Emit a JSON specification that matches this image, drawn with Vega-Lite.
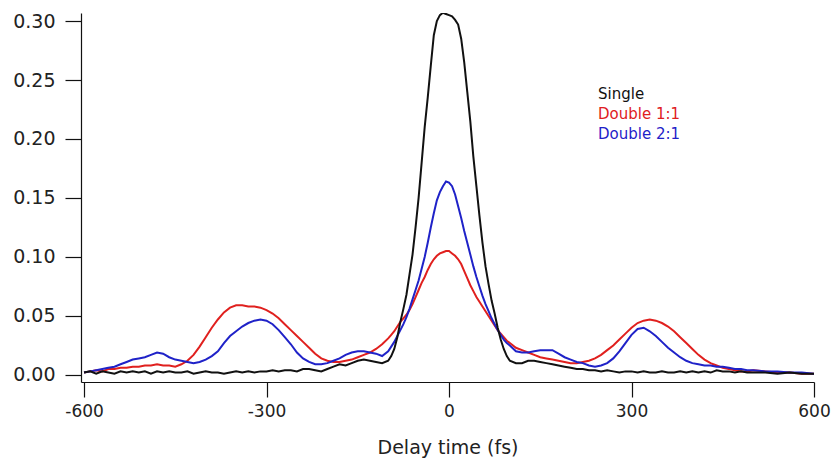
{
  "$schema": "https://vega.github.io/schema/vega-lite/v6.json",
  "autosize": {"type": "none"},
  "padding": {"left": 81, "top": 13, "right": 22, "bottom": 86},
  "width": 733,
  "height": 369,
  "background": "white",
  "config": {
    "view": {"stroke": null},
    "font": "DejaVu Sans",
    "axis": {
      "grid": false,
      "domainColor": "#111111",
      "domainWidth": 1.2,
      "tickColor": "#111111",
      "tickWidth": 1.2,
      "labelFont": "DejaVu Sans",
      "labelColor": "#222222",
      "titleFont": "DejaVu Sans",
      "titleColor": "#222222",
      "titleFontWeight": "normal"
    }
  },
  "datasets": {
    "curves": [
      {"t": -600, "Single": 0.002, "Double 1:1": 0.002, "Double 2:1": 0.002},
      {"t": -590, "Single": 0.003, "Double 1:1": 0.003, "Double 2:1": 0.003},
      {"t": -580, "Single": 0.001, "Double 1:1": 0.004, "Double 2:1": 0.004},
      {"t": -570, "Single": 0.003, "Double 1:1": 0.003, "Double 2:1": 0.005},
      {"t": -560, "Single": 0.002, "Double 1:1": 0.005, "Double 2:1": 0.006},
      {"t": -550, "Single": 0.001, "Double 1:1": 0.005, "Double 2:1": 0.007},
      {"t": -540, "Single": 0.003, "Double 1:1": 0.006, "Double 2:1": 0.009},
      {"t": -530, "Single": 0.002, "Double 1:1": 0.006, "Double 2:1": 0.011},
      {"t": -520, "Single": 0.003, "Double 1:1": 0.007, "Double 2:1": 0.013},
      {"t": -510, "Single": 0.002, "Double 1:1": 0.007, "Double 2:1": 0.014},
      {"t": -500, "Single": 0.003, "Double 1:1": 0.008, "Double 2:1": 0.015},
      {"t": -490, "Single": 0.001, "Double 1:1": 0.008, "Double 2:1": 0.017},
      {"t": -480, "Single": 0.003, "Double 1:1": 0.009, "Double 2:1": 0.019},
      {"t": -470, "Single": 0.002, "Double 1:1": 0.008, "Double 2:1": 0.018},
      {"t": -460, "Single": 0.003, "Double 1:1": 0.008, "Double 2:1": 0.015},
      {"t": -450, "Single": 0.002, "Double 1:1": 0.007, "Double 2:1": 0.013},
      {"t": -440, "Single": 0.002, "Double 1:1": 0.009, "Double 2:1": 0.012},
      {"t": -430, "Single": 0.003, "Double 1:1": 0.012, "Double 2:1": 0.011},
      {"t": -420, "Single": 0.001, "Double 1:1": 0.017, "Double 2:1": 0.010},
      {"t": -410, "Single": 0.002, "Double 1:1": 0.024, "Double 2:1": 0.011},
      {"t": -400, "Single": 0.003, "Double 1:1": 0.032, "Double 2:1": 0.013},
      {"t": -390, "Single": 0.002, "Double 1:1": 0.040, "Double 2:1": 0.016},
      {"t": -380, "Single": 0.002, "Double 1:1": 0.047, "Double 2:1": 0.020},
      {"t": -370, "Single": 0.001, "Double 1:1": 0.053, "Double 2:1": 0.027},
      {"t": -360, "Single": 0.002, "Double 1:1": 0.057, "Double 2:1": 0.033},
      {"t": -350, "Single": 0.003, "Double 1:1": 0.059, "Double 2:1": 0.037},
      {"t": -340, "Single": 0.002, "Double 1:1": 0.059, "Double 2:1": 0.041},
      {"t": -330, "Single": 0.003, "Double 1:1": 0.058, "Double 2:1": 0.044},
      {"t": -320, "Single": 0.002, "Double 1:1": 0.058, "Double 2:1": 0.046},
      {"t": -310, "Single": 0.003, "Double 1:1": 0.057, "Double 2:1": 0.047},
      {"t": -300, "Single": 0.003, "Double 1:1": 0.055, "Double 2:1": 0.046},
      {"t": -290, "Single": 0.004, "Double 1:1": 0.052, "Double 2:1": 0.043},
      {"t": -280, "Single": 0.003, "Double 1:1": 0.048, "Double 2:1": 0.038},
      {"t": -270, "Single": 0.004, "Double 1:1": 0.043, "Double 2:1": 0.032},
      {"t": -260, "Single": 0.004, "Double 1:1": 0.038, "Double 2:1": 0.026},
      {"t": -250, "Single": 0.003, "Double 1:1": 0.033, "Double 2:1": 0.019},
      {"t": -240, "Single": 0.005, "Double 1:1": 0.028, "Double 2:1": 0.014},
      {"t": -230, "Single": 0.005, "Double 1:1": 0.023, "Double 2:1": 0.011},
      {"t": -220, "Single": 0.004, "Double 1:1": 0.018, "Double 2:1": 0.009},
      {"t": -210, "Single": 0.003, "Double 1:1": 0.014, "Double 2:1": 0.009},
      {"t": -200, "Single": 0.005, "Double 1:1": 0.012, "Double 2:1": 0.010},
      {"t": -190, "Single": 0.007, "Double 1:1": 0.011, "Double 2:1": 0.012},
      {"t": -180, "Single": 0.009, "Double 1:1": 0.011, "Double 2:1": 0.014},
      {"t": -170, "Single": 0.008, "Double 1:1": 0.012, "Double 2:1": 0.017},
      {"t": -160, "Single": 0.010, "Double 1:1": 0.013, "Double 2:1": 0.019},
      {"t": -150, "Single": 0.012, "Double 1:1": 0.015, "Double 2:1": 0.020},
      {"t": -140, "Single": 0.013, "Double 1:1": 0.017, "Double 2:1": 0.020},
      {"t": -130, "Single": 0.012, "Double 1:1": 0.019, "Double 2:1": 0.019},
      {"t": -120, "Single": 0.011, "Double 1:1": 0.022, "Double 2:1": 0.018},
      {"t": -110, "Single": 0.010, "Double 1:1": 0.026, "Double 2:1": 0.016},
      {"t": -100, "Single": 0.012, "Double 1:1": 0.031, "Double 2:1": 0.020},
      {"t": -95, "Single": 0.016, "Double 1:1": 0.034, "Double 2:1": 0.024},
      {"t": -90, "Single": 0.022, "Double 1:1": 0.037, "Double 2:1": 0.028},
      {"t": -85, "Single": 0.032, "Double 1:1": 0.041, "Double 2:1": 0.033},
      {"t": -80, "Single": 0.045, "Double 1:1": 0.045, "Double 2:1": 0.038},
      {"t": -75, "Single": 0.056, "Double 1:1": 0.048, "Double 2:1": 0.043},
      {"t": -70, "Single": 0.068, "Double 1:1": 0.051, "Double 2:1": 0.049},
      {"t": -65, "Single": 0.085, "Double 1:1": 0.055, "Double 2:1": 0.056},
      {"t": -60, "Single": 0.102, "Double 1:1": 0.060, "Double 2:1": 0.064},
      {"t": -55, "Single": 0.125, "Double 1:1": 0.066, "Double 2:1": 0.072},
      {"t": -50, "Single": 0.150, "Double 1:1": 0.072, "Double 2:1": 0.080},
      {"t": -45, "Single": 0.180, "Double 1:1": 0.078, "Double 2:1": 0.090},
      {"t": -40, "Single": 0.210, "Double 1:1": 0.083, "Double 2:1": 0.100},
      {"t": -35, "Single": 0.235, "Double 1:1": 0.089, "Double 2:1": 0.112},
      {"t": -30, "Single": 0.262, "Double 1:1": 0.094, "Double 2:1": 0.125},
      {"t": -25, "Single": 0.288, "Double 1:1": 0.098, "Double 2:1": 0.137},
      {"t": -20, "Single": 0.300, "Double 1:1": 0.101, "Double 2:1": 0.148},
      {"t": -15, "Single": 0.305, "Double 1:1": 0.103, "Double 2:1": 0.155},
      {"t": -10, "Single": 0.307, "Double 1:1": 0.104, "Double 2:1": 0.160},
      {"t": -5, "Single": 0.306, "Double 1:1": 0.105, "Double 2:1": 0.164},
      {"t": 0, "Single": 0.305, "Double 1:1": 0.105, "Double 2:1": 0.163},
      {"t": 5, "Single": 0.304, "Double 1:1": 0.103, "Double 2:1": 0.160},
      {"t": 10, "Single": 0.301, "Double 1:1": 0.101, "Double 2:1": 0.153},
      {"t": 15, "Single": 0.297, "Double 1:1": 0.098, "Double 2:1": 0.143},
      {"t": 20, "Single": 0.285, "Double 1:1": 0.094, "Double 2:1": 0.133},
      {"t": 25, "Single": 0.265, "Double 1:1": 0.088, "Double 2:1": 0.122},
      {"t": 30, "Single": 0.240, "Double 1:1": 0.082, "Double 2:1": 0.112},
      {"t": 35, "Single": 0.215, "Double 1:1": 0.076, "Double 2:1": 0.102},
      {"t": 40, "Single": 0.185, "Double 1:1": 0.071, "Double 2:1": 0.092},
      {"t": 45, "Single": 0.160, "Double 1:1": 0.066, "Double 2:1": 0.083},
      {"t": 50, "Single": 0.135, "Double 1:1": 0.062, "Double 2:1": 0.075},
      {"t": 55, "Single": 0.112, "Double 1:1": 0.058, "Double 2:1": 0.067},
      {"t": 60, "Single": 0.092, "Double 1:1": 0.054, "Double 2:1": 0.060},
      {"t": 65, "Single": 0.077, "Double 1:1": 0.050, "Double 2:1": 0.054},
      {"t": 70, "Single": 0.063, "Double 1:1": 0.046, "Double 2:1": 0.048},
      {"t": 75, "Single": 0.052, "Double 1:1": 0.042, "Double 2:1": 0.043},
      {"t": 80, "Single": 0.040, "Double 1:1": 0.038, "Double 2:1": 0.038},
      {"t": 85, "Single": 0.030, "Double 1:1": 0.035, "Double 2:1": 0.034},
      {"t": 90, "Single": 0.022, "Double 1:1": 0.032, "Double 2:1": 0.030},
      {"t": 95, "Single": 0.016, "Double 1:1": 0.029, "Double 2:1": 0.027},
      {"t": 100, "Single": 0.012, "Double 1:1": 0.027, "Double 2:1": 0.025},
      {"t": 110, "Single": 0.010, "Double 1:1": 0.023, "Double 2:1": 0.020},
      {"t": 120, "Single": 0.010, "Double 1:1": 0.021, "Double 2:1": 0.019},
      {"t": 130, "Single": 0.012, "Double 1:1": 0.019, "Double 2:1": 0.019},
      {"t": 140, "Single": 0.012, "Double 1:1": 0.017, "Double 2:1": 0.020},
      {"t": 150, "Single": 0.011, "Double 1:1": 0.015, "Double 2:1": 0.021},
      {"t": 160, "Single": 0.010, "Double 1:1": 0.014, "Double 2:1": 0.021},
      {"t": 170, "Single": 0.009, "Double 1:1": 0.013, "Double 2:1": 0.021},
      {"t": 180, "Single": 0.008, "Double 1:1": 0.012, "Double 2:1": 0.018},
      {"t": 190, "Single": 0.007, "Double 1:1": 0.011, "Double 2:1": 0.015},
      {"t": 200, "Single": 0.006, "Double 1:1": 0.010, "Double 2:1": 0.013},
      {"t": 210, "Single": 0.005, "Double 1:1": 0.010, "Double 2:1": 0.011},
      {"t": 220, "Single": 0.005, "Double 1:1": 0.011, "Double 2:1": 0.010},
      {"t": 230, "Single": 0.004, "Double 1:1": 0.012, "Double 2:1": 0.008},
      {"t": 240, "Single": 0.004, "Double 1:1": 0.014, "Double 2:1": 0.007},
      {"t": 250, "Single": 0.003, "Double 1:1": 0.017, "Double 2:1": 0.008},
      {"t": 260, "Single": 0.004, "Double 1:1": 0.021, "Double 2:1": 0.010},
      {"t": 270, "Single": 0.003, "Double 1:1": 0.025, "Double 2:1": 0.014},
      {"t": 280, "Single": 0.002, "Double 1:1": 0.030, "Double 2:1": 0.020},
      {"t": 290, "Single": 0.003, "Double 1:1": 0.035, "Double 2:1": 0.027},
      {"t": 300, "Single": 0.003, "Double 1:1": 0.040, "Double 2:1": 0.034},
      {"t": 310, "Single": 0.002, "Double 1:1": 0.044, "Double 2:1": 0.039},
      {"t": 320, "Single": 0.003, "Double 1:1": 0.046, "Double 2:1": 0.040},
      {"t": 330, "Single": 0.002, "Double 1:1": 0.047, "Double 2:1": 0.037},
      {"t": 340, "Single": 0.002, "Double 1:1": 0.046, "Double 2:1": 0.033},
      {"t": 350, "Single": 0.003, "Double 1:1": 0.044, "Double 2:1": 0.028},
      {"t": 360, "Single": 0.002, "Double 1:1": 0.041, "Double 2:1": 0.023},
      {"t": 370, "Single": 0.002, "Double 1:1": 0.037, "Double 2:1": 0.019},
      {"t": 380, "Single": 0.003, "Double 1:1": 0.032, "Double 2:1": 0.015},
      {"t": 390, "Single": 0.002, "Double 1:1": 0.027, "Double 2:1": 0.012},
      {"t": 400, "Single": 0.003, "Double 1:1": 0.022, "Double 2:1": 0.010},
      {"t": 410, "Single": 0.002, "Double 1:1": 0.017, "Double 2:1": 0.009},
      {"t": 420, "Single": 0.003, "Double 1:1": 0.013, "Double 2:1": 0.008},
      {"t": 430, "Single": 0.002, "Double 1:1": 0.010, "Double 2:1": 0.008},
      {"t": 440, "Single": 0.004, "Double 1:1": 0.008, "Double 2:1": 0.007},
      {"t": 450, "Single": 0.003, "Double 1:1": 0.006, "Double 2:1": 0.007},
      {"t": 460, "Single": 0.003, "Double 1:1": 0.005, "Double 2:1": 0.006},
      {"t": 470, "Single": 0.002, "Double 1:1": 0.004, "Double 2:1": 0.005},
      {"t": 480, "Single": 0.003, "Double 1:1": 0.003, "Double 2:1": 0.005},
      {"t": 490, "Single": 0.002, "Double 1:1": 0.003, "Double 2:1": 0.004},
      {"t": 500, "Single": 0.002, "Double 1:1": 0.004, "Double 2:1": 0.004},
      {"t": 520, "Single": 0.002, "Double 1:1": 0.003, "Double 2:1": 0.003},
      {"t": 540, "Single": 0.001, "Double 1:1": 0.002, "Double 2:1": 0.003},
      {"t": 560, "Single": 0.002, "Double 1:1": 0.002, "Double 2:1": 0.002},
      {"t": 580, "Single": 0.001, "Double 1:1": 0.001, "Double 2:1": 0.002},
      {"t": 600, "Single": 0.001, "Double 1:1": 0.001, "Double 2:1": 0.001}
    ],
    "labels": [
      {"t": 245, "y": 0.238, "series": "Single"},
      {"t": 245, "y": 0.221, "series": "Double 1:1"},
      {"t": 245, "y": 0.204, "series": "Double 2:1"}
    ]
  },
  "layer": [
    {
      "data": {"name": "curves"},
      "transform": [
        {"fold": ["Double 1:1", "Double 2:1", "Single"], "as": ["series", "y"]}
      ],
      "mark": {"type": "line", "strokeWidth": 2, "clip": true},
      "encoding": {
        "x": {
          "field": "t", "type": "quantitative",
          "scale": {"domain": [-605, 600], "nice": false, "zero": false},
          "axis": {
            "title": "Delay time (fs)",
            "values": [-600, -300, 0, 300, 600],
            "labelExpr": "'' + datum.value",
            "labelFontSize": 17,
            "titleFontSize": 19,
            "tickSize": 15,
            "labelPadding": 6,
            "titlePadding": 19,
            "labelFlush": false
          }
        },
        "y": {
          "field": "y", "type": "quantitative",
          "scale": {"domain": [-0.006, 0.3068], "nice": false, "zero": false},
          "axis": {
            "title": null,
            "values": [0, 0.05, 0.1, 0.15, 0.2, 0.25, 0.3],
            "format": ".2f",
            "labelFontSize": 19,
            "tickSize": 16,
            "labelPadding": 10,
            "labelFlush": false
          }
        },
        "color": {
          "field": "series", "type": "nominal",
          "scale": {
            "domain": ["Single", "Double 1:1", "Double 2:1"],
            "range": ["#111111", "#e0201e", "#1f22c8"]
          },
          "legend": null
        },
        "detail": {"field": "series"}
      }
    },
    {
      "data": {"name": "labels"},
      "mark": {"type": "text", "align": "left", "baseline": "middle", "fontSize": 15, "font": "DejaVu Sans"},
      "encoding": {
        "x": {"field": "t", "type": "quantitative"},
        "y": {"field": "y", "type": "quantitative"},
        "text": {"field": "series"},
        "color": {"field": "series", "type": "nominal", "legend": null}
      }
    }
  ]
}
